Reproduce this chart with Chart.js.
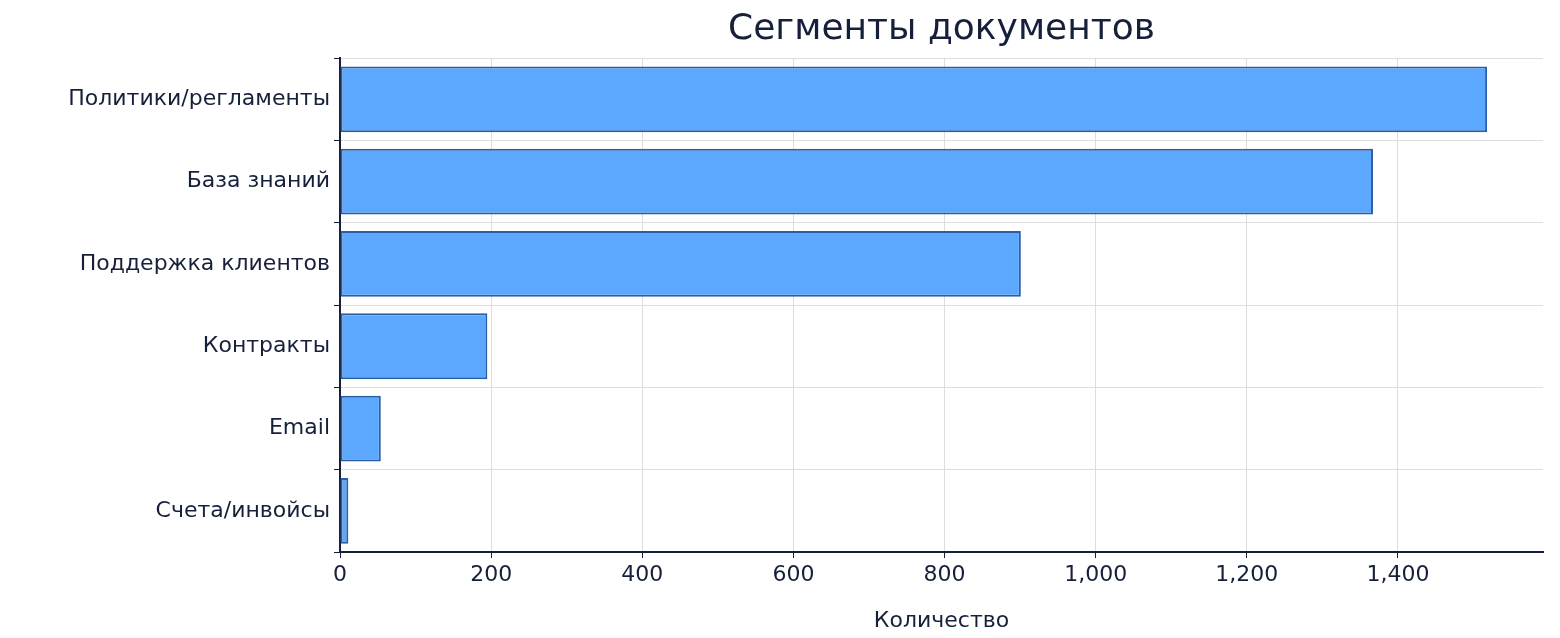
<!DOCTYPE html>
<html><head><meta charset="utf-8">
<script src="https://cdn.jsdelivr.net/npm/chart.js@4/dist/chart.umd.min.js"></script>
<style>html,body{margin:0;padding:0;background:#fff}#w{width:1560px;height:638px}</style>
</head><body><div id="w"><canvas id="c"></canvas></div>
<script>
const categories = ["Политики/регламенты","База знаний","Поддержка клиентов","Контракты","Email","Счета/инвойсы"];
const counts = [1518, 1367, 901, 195, 54, 11];
const xTicks = [0,200,400,600,800,1000,1200,1400];
const ink = '#16203a';
new Chart(document.getElementById('c'), {
  type: 'bar',
  data: { labels: categories, datasets: [{ data: counts, backgroundColor: '#5ca8ff', borderColor: '#2a5fa8', borderWidth: 2, borderSkipped: false, barPercentage: 0.8, categoryPercentage: 1 }] },
  options: {
    indexAxis: 'y', responsive: true, maintainAspectRatio: false, animation: false,
    layout: { padding: { left: 0, right: 17, top: 0, bottom: 0 } },
    plugins: {
      legend: { display: false }, tooltip: { enabled: false },
      title: { display: true, text: 'Сегменты документов', fullSize: false, color: ink,
        font: { family: 'DejaVu Sans', size: 36, weight: 'normal' }, padding: { top: 8, bottom: 7 } }
    },
    scales: {
      x: { min: 0, max: 1592,
        afterBuildTicks: s => { s.ticks = xTicks.map(v => ({ value: v })); },
        afterFit: s => { s.height = 86; },
        grid: { color: '#dddddd', borderDash: [5,4], tickLength: 6, tickColor: ink, drawTicks: true },
        border: { display: true, color: ink, width: 2, dash: [] },
        ticks: { color: ink, font: { family: 'DejaVu Sans', size: 22 }, padding: 4 },
        title: { display: true, text: 'Количество', color: ink, font: { family: 'DejaVu Sans', size: 22 }, padding: { top: 2 } }
      },
      y: {
        afterFit: s => { s.width = 340; },
        grid: { color: '#dddddd', tickColor: ink, tickLength: 6 },
        border: { display: true, color: ink, width: 2 },
        ticks: { color: ink, font: { family: 'DejaVu Sans', size: 22 }, padding: 4 }
      }
    }
  },
  plugins: [{ id: 'dash', beforeDraw: c => {
    c.options.scales.x.grid.borderDash; } }]
});
</script></body></html>
